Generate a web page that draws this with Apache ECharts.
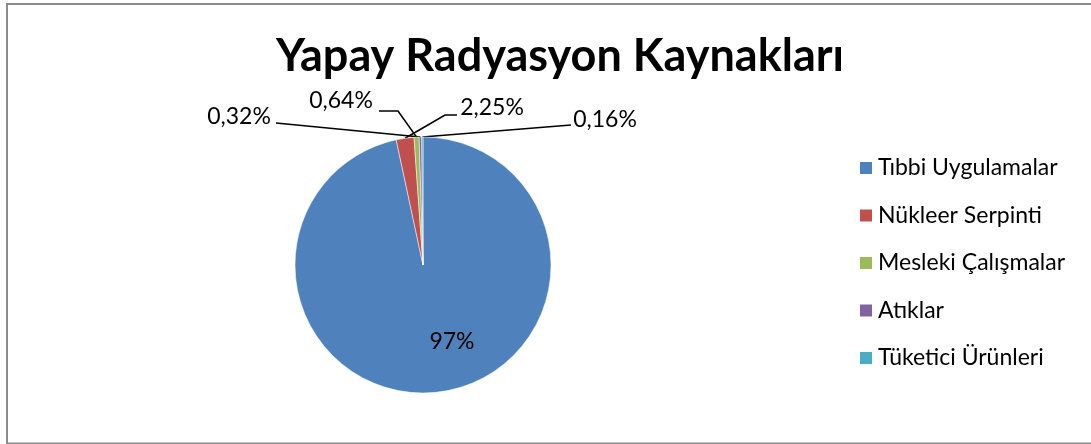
<!DOCTYPE html>
<html>
<head>
<meta charset="utf-8">
<script src="https://cdn.jsdelivr.net/npm/echarts@6/dist/echarts.min.js"></script>
<style>
html,body{margin:0;padding:0;background:#fff;}
#chart{width:1091px;height:444px;}
</style>
</head>
<body>
<div id="chart"></div>
<script>
const titleText = 'Yapay Radyasyon Kaynakları';
const categories = ['Tıbbi Uygulamalar', 'Nükleer Serpinti', 'Mesleki Çalışmalar', 'Atıklar', 'Tüketici Ürünleri'];
const values = [97, 2.25, 0.64, 0.32, 0.16];
const colors = ['#4F81BD', '#C0504D', '#9BBB59', '#8064A2', '#4BACC6'];

// label placement (text centre) and elbow points for leader lines
const labelPos = [
  {x: 452, y: 342, line: null},
  {x: 492, y: 108, line: [[445, 115], [457, 115]]},
  {x: 341, y: 101, line: [[398, 111], [379, 111]]},
  {x: 239, y: 117, line: [[276, 123]]},
  {x: 605, y: 120, line: [[571, 125]]}
];

function fmt(v) {
  return String(v).replace('.', ',') + '%';
}

const chart = echarts.init(document.getElementById('chart'), null, {renderer: 'canvas'});
const FONT = 'Lato, "Open Sans", sans-serif';

chart.setOption({
  backgroundColor: '#fff',
  animation: false,
  title: {
    text: titleText,
    left: 555,
    textAlign: 'center',
    top: 29,
    textStyle: {fontFamily: FONT, fontSize: 45, fontWeight: 'bold', color: '#000'}
  },
  legend: {
    orient: 'vertical',
    left: 853,
    top: 150,
    itemWidth: 14,
    itemHeight: 14,
    itemGap: 21.5,
    icon: 'rect',
    textStyle: {fontFamily: FONT, fontSize: 23, color: '#000', lineHeight: 26, padding: [0, 0, 0, 0]},
    data: categories
  },
  graphic: [{
    type: 'rect',
    shape: {x: 7, y: 4, width: 1100, height: 439.5},
    style: {fill: 'none', stroke: '#8c8c8c', lineWidth: 2},
    silent: true
  }],
  series: [{
    type: 'pie',
    center: [423, 265],
    radius: 128,
    startAngle: 90,
    clockwise: true,
    avoidLabelOverlap: false,
    itemStyle: {borderColor: '#fff', borderWidth: 0.5},
    label: {
      show: true,
      position: 'outside',
      fontFamily: FONT,
      fontSize: 23,
      color: '#000',
      formatter: p => fmt(p.value)
    },
    labelLine: {show: true, length: 10, length2: 10, lineStyle: {color: '#000', width: 1.6}},
    labelLayout: function (params) {
      const lp = labelPos[params.dataIndex];
      const res = {x: lp.x, y: lp.y, align: 'center', verticalAlign: 'middle'};
      if (lp.line && params.labelLinePoints) {
        const start = params.labelLinePoints[0];
        res.labelLinePoints = [start].concat(lp.line);
      }
      return res;
    },
    data: categories.map((c, i) => ({
      name: c,
      value: values[i],
      itemStyle: {color: colors[i]},
      label: i === 0 ? {position: 'inside'} : {},
      labelLine: i === 0 ? {show: false} : {}
    }))
  }]
});
</script>
</body>
</html>
